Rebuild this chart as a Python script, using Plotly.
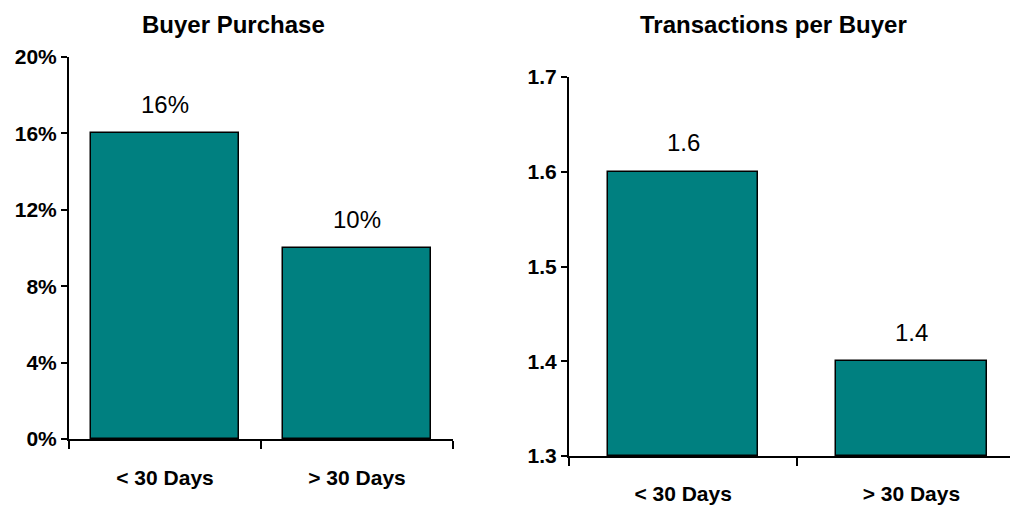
import plotly.graph_objects as go

categories = ["< 30 Days", "> 30 Days"]
buyer_purchase = [16, 10]
transactions_per_buyer = [1.6, 1.4]
purchase_ticks = [0, 4, 8, 12, 16, 20]
transaction_ticks = [1.3, 1.4, 1.5, 1.6, 1.7]
titles = ["Buyer Purchase", "Transactions per Buyer"]
transaction_base = 1.3

# page body has an 8px margin; compensate so pixel positions match the window
OFF = 8
W, H = 1018 - OFF, 506 - OFF
TEAL = "#008080"
FONT = "Liberation Sans, Arial, sans-serif"


def px_x(x):
    return (x - OFF) / W


def px_y(y):
    return (H - (y - OFF)) / H


fig = go.Figure()

fig.add_trace(go.Bar(
    x=categories, y=buyer_purchase, xaxis="x", yaxis="y",
    width=0.77, marker=dict(color=TEAL, line=dict(color="black", width=1.5)),
    hoverinfo="skip", showlegend=False,
))
fig.add_trace(go.Bar(
    x=categories, y=[v - transaction_base for v in transactions_per_buyer],
    base=transaction_base, xaxis="x2", yaxis="y2",
    width=0.66, marker=dict(color=TEAL, line=dict(color="black", width=1.5)),
    hoverinfo="skip", showlegend=False,
))

annotations = []
for c, v in zip(categories, buyer_purchase):
    annotations.append(dict(x=c, y=v, xref="x", yref="y", text=f"{v}%",
                            showarrow=False, yshift=29, yanchor="middle",
                            font=dict(family=FONT, size=24, color="black")))
for c, v in zip(categories, transactions_per_buyer):
    annotations.append(dict(x=c, y=v, xref="x2", yref="y2", text=f"{v:.1f}",
                            showarrow=False, yshift=29, yanchor="middle",
                            font=dict(family=FONT, size=24, color="black")))
annotations.append(dict(x=px_x(233), y=px_y(25), xref="paper", yref="paper",
                        text=f"<b>{titles[0]}</b>", showarrow=False,
                        xanchor="center", yanchor="middle",
                        font=dict(family=FONT, size=24, color="black")))
annotations.append(dict(x=px_x(773), y=px_y(25), xref="paper", yref="paper",
                        text=f"<b>{titles[1]}</b>", showarrow=False,
                        xanchor="center", yanchor="middle",
                        font=dict(family=FONT, size=24, color="black")))

axis_common = dict(showline=True, linecolor="black", linewidth=2,
                   showgrid=False, zeroline=False, ticks="outside",
                   tickcolor="black", tickwidth=2, automargin=False)
xfont = dict(family=FONT, size=21, color="black", weight="bold")
yfont = dict(family=FONT, size=21, color="black", weight="bold")

fig.update_layout(
    width=W, height=H,
    margin=dict(l=0, r=0, t=0, b=0, autoexpand=False),
    paper_bgcolor="white", plot_bgcolor="white",
    bargap=0,
    annotations=annotations,
    xaxis=dict(domain=[px_x(69), px_x(453)], anchor="y", type="category",
               range=[-0.5, 1.5], tickson="boundaries", ticklen=8,
               tickfont=xfont, ticklabelstandoff=19, **axis_common),
    yaxis=dict(domain=[px_y(439), px_y(57)], anchor="x",
               range=[0, 20], tickvals=purchase_ticks,
               ticktext=[f"{t}%" for t in purchase_ticks], ticklen=6,
               tickfont=yfont, **axis_common),
    xaxis2=dict(domain=[px_x(569), 1.0], anchor="y2", type="category",
                range=[-0.5, 1.467], tickson="boundaries", ticklen=8,
                tickfont=xfont, ticklabelstandoff=18, **axis_common),
    yaxis2=dict(domain=[px_y(456), px_y(77)], anchor="x2",
                range=[1.3, 1.7], tickvals=transaction_ticks,
                ticktext=[f"{t:.1f}" for t in transaction_ticks], ticklen=6,
                tickfont=yfont, **axis_common),
)

fig.write_html("out.html")
